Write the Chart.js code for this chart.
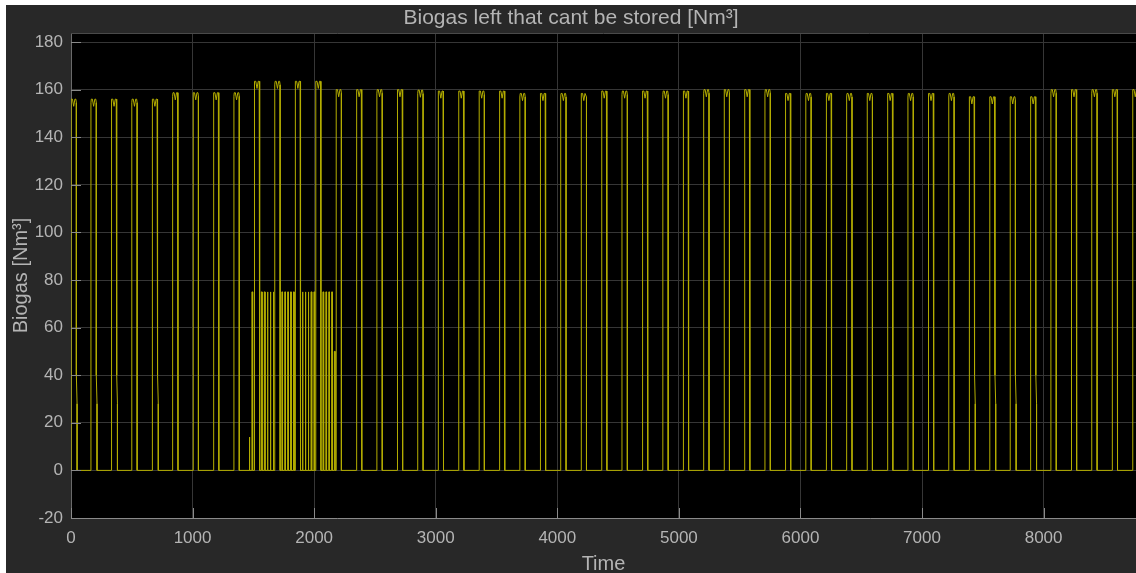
<!DOCTYPE html>
<html lang="en">
  <head>
    <title>Biogas left that cant be stored</title>
    <style>
      body { margin: 0; background: #ffffff; }
      #wrap { position: absolute; left: 6px; top: 5px; width: 1130px; height: 568px; background: #282828; }
    </style>
  </head>
  <body>
    <div id="wrap">
      <canvas id="myChart"></canvas>
    </div>

    <script src="https://cdn.jsdelivr.net/npm/chart.js"></script>

    <script>
      // weekly pulses: start hour and plateau level
      var pulseStart = [0, 164, 332, 500, 668, 836, 1004, 1172, 1340, 1508, 1676, 1844, 2012,
        2180, 2348, 2516, 2684, 2852, 3020, 3188, 3356, 3524, 3692, 3860, 4028, 4196, 4364,
        4532, 4700, 4868, 5036, 5204, 5372, 5540, 5708, 5876, 6044, 6212, 6380, 6548, 6716,
        6884, 7052, 7220, 7388, 7556, 7724, 7892, 8060, 8228, 8396, 8564, 8732];
      var pulseLevel = [156, 156, 156, 156, 156, 158.7, 158.7, 158.7, 158.7, 163.5, 163.5, 163.5, 163.5,
        160, 160, 160, 160, 159.8, 159.4, 159.4, 159.4, 159.4, 158.4, 158.4, 158.4, 158.4, 159.4,
        159.4, 159.4, 159.4, 159.4, 160, 160, 160, 160, 158.4, 158.4, 158.4, 158.4, 158.4, 158.4,
        158.4, 158.4, 158.4, 157, 157, 157, 157, 160, 160, 160, 160, 160];
      var pulseHours = 44;
      // pulses whose falling edge has a short ramp near the bottom
      var slowFall = [0, 1, 2, 4, 44, 45, 46, 47];

      // short spikes in the spring weeks
      var spikeStart = [1465, 1488,
        1566, 1590, 1614, 1638, 1662,
        1734, 1758, 1782, 1806, 1830,
        1902, 1926, 1950, 1974, 1998,
        2072, 2096, 2120, 2144, 2166];
      var spikeLevel = [14, 75,
        75, 75, 75, 75, 75,
        75, 75, 75, 75, 75,
        75, 75, 75, 75, 75,
        75, 75, 75, 75, 50];
      var spikeHours = 6;

      var xTicks = [0, 1000, 2000, 3000, 4000, 5000, 6000, 7000, 8000];
      var yTicks = [-20, 0, 20, 40, 60, 80, 100, 120, 140, 160, 180];

      // build the step line
      var segs = [];
      pulseStart.forEach(function (s, i) {
        var L = pulseLevel[i];
        var e = s + pulseHours;
        var pts = [
          { x: s, y: 0 }, { x: s, y: L - 1.5 }, { x: s + 3, y: L }, { x: s + 12, y: L },
          { x: s + 22, y: L - 3 }, { x: s + 32, y: L }, { x: s + 40, y: L }, { x: e, y: L - 1.5 }
        ];
        if (slowFall.indexOf(i) >= 0) {
          pts.push({ x: e, y: 40 }, { x: e + 6, y: 28 }, { x: e + 6, y: 0 });
        } else {
          pts.push({ x: e, y: 0 });
        }
        segs.push({ start: s, pts: pts });
      });
      spikeStart.forEach(function (s, i) {
        var L = spikeLevel[i];
        segs.push({ start: s, pts: [{ x: s, y: 0 }, { x: s, y: L }, { x: s + spikeHours, y: L }, { x: s + spikeHours, y: 0 }] });
      });
      segs.sort(function (a, b) { return a.start - b.start; });
      var series = [];
      segs.forEach(function (sg) { series = series.concat(sg.pts); });
      series.push({ x: 8760, y: 0 });

      var textColor = "#b4b4b4";

      var matlabAxes = {
        id: "matlabAxes",
        beforeDraw: function (chart) {
          var a = chart.chartArea, c = chart.ctx;
          c.save();
          c.fillStyle = "#000000";
          c.fillRect(a.left, a.top, a.right - a.left, a.bottom - a.top);
          c.restore();
        },
        afterDraw: function (chart) {
          var a = chart.chartArea, c = chart.ctx;
          var xs = chart.scales.x, ys = chart.scales.y;
          c.save();
          c.strokeStyle = "#4a4a4a";
          c.lineWidth = 1;
          c.beginPath();
          c.moveTo(a.left, a.top + 0.5);
          c.lineTo(a.right, a.top + 0.5);
          c.stroke();
          c.strokeStyle = "#8a8a8a";
          c.beginPath();
          xTicks.forEach(function (v) {
            var px = Math.round(xs.getPixelForValue(v)) + 0.5;
            c.moveTo(px, a.bottom);
            c.lineTo(px, a.bottom - 10);
          });
          yTicks.forEach(function (v) {
            var py = Math.round(ys.getPixelForValue(v)) + 0.5;
            c.moveTo(a.left, py);
            c.lineTo(a.left + 10, py);
          });
          c.stroke();
          c.restore();
        }
      };

      const ctx = document.getElementById("myChart");
      new Chart(ctx, {
        type: "line",
        data: {
          datasets: [
            {
              label: "Biogas",
              data: series,
              borderColor: "rgb(180, 174, 0)",
              borderWidth: 1,
              pointRadius: 0,
              tension: 0,
              fill: false,
            },
          ],
        },
        options: {
          responsive: true,
          maintainAspectRatio: false,
          animation: false,
          layout: { padding: 0 },
          plugins: {
            legend: { display: false },
            tooltip: { enabled: false },
            title: {
              display: true,
              text: "Biogas left that cant be stored [Nm³]",
              color: textColor,
              font: { family: "Liberation Sans", size: 21, weight: "normal" },
              padding: { top: 1, bottom: 1.8 },
            },
          },
          scales: {
            x: {
              type: "linear",
              min: 0,
              max: 8760,
              afterFit: function (s) { s.height = 55; },
              afterBuildTicks: function (s) { s.ticks = xTicks.map(function (v) { return { value: v }; }); },
              ticks: {
                color: textColor,
                font: { family: "Liberation Sans", size: 17 },
                padding: 10,
                maxRotation: 0,
                callback: function (v) { return String(v); },
              },
              grid: { color: "#363636", drawTicks: false },
              border: { color: "#8a8a8a" },
              title: {
                display: true,
                text: "Time",
                color: textColor,
                font: { family: "Liberation Sans", size: 20 },
                padding: { top: 0, bottom: -3 },
              },
            },
            y: {
              min: -20,
              max: 183.8,
              afterFit: function (s) { s.width = 65; },
              afterBuildTicks: function (s) { s.ticks = yTicks.map(function (v) { return { value: v }; }); },
              ticks: {
                color: textColor,
                font: { family: "Liberation Sans", size: 17 },
                padding: 8,
              },
              grid: { color: "#363636", drawTicks: false },
              border: { color: "#6a6a6a" },
              title: {
                display: true,
                text: "Biogas [Nm³]",
                color: textColor,
                font: { family: "Liberation Sans", size: 20 },
                padding: { top: 3, bottom: 0 },
              },
            },
          },
        },
        plugins: [matlabAxes],
      });
    </script>
  </body>
</html>
